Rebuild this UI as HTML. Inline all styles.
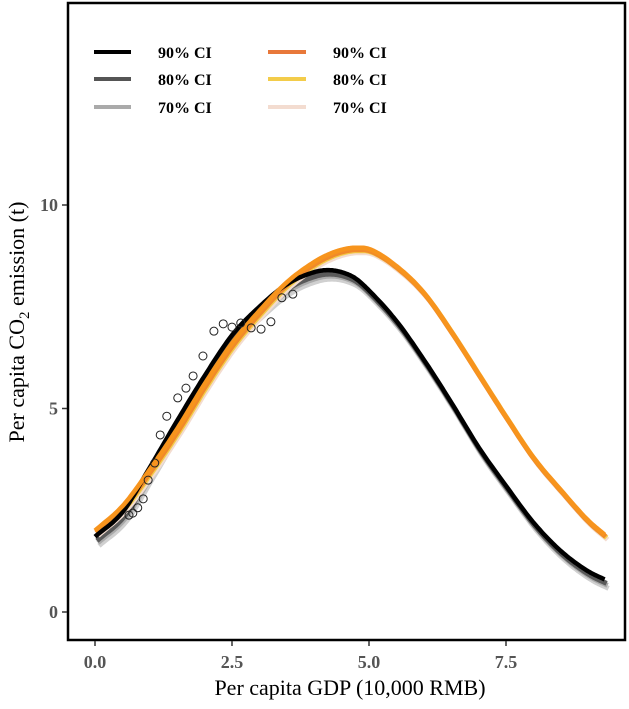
<!DOCTYPE html>
<html><head><meta charset="utf-8"><style>
body{margin:0;background:#fff;}
svg text{font-family:"Liberation Serif",serif;}
</style></head><body>
<svg id="chart" width="629" height="704" xmlns="http://www.w3.org/2000/svg">
<rect x="68" y="3" width="557" height="637" fill="#fff" stroke="#000" stroke-width="2.5"/>
<g id="bands"></g><g id="lines"></g><g id="pts"></g><g id="axes"></g>
<g font-weight="bold" font-size="16">
<line x1="94" y1="52" x2="131" y2="52" stroke="#000" stroke-width="4"/>
<text x="158" y="58">90% CI</text>
<line x1="94" y1="79" x2="131" y2="79" stroke="#555" stroke-width="4"/>
<text x="158" y="85">80% CI</text>
<line x1="94" y1="107" x2="131" y2="107" stroke="#aaa" stroke-width="4"/>
<text x="158" y="113">70% CI</text>
<line x1="268" y1="52" x2="306" y2="52" stroke="#e8783a" stroke-width="4"/>
<text x="333" y="58">90% CI</text>
<line x1="268" y1="79" x2="306" y2="79" stroke="#f3cc4a" stroke-width="4"/>
<text x="333" y="85">80% CI</text>
<line x1="268" y1="107" x2="306" y2="107" stroke="#f3dcd0" stroke-width="4"/>
<text x="333" y="113">70% CI</text>
</g>
<text x="350" y="695" font-size="22" text-anchor="middle">Per capita GDP (10,000 RMB)</text>
<text transform="translate(24,322) rotate(-90)" font-size="22" text-anchor="middle">Per capita CO<tspan font-size="15" dy="5">2</tspan><tspan dy="-5"> emission (t)</tspan></text>
</svg>
<script>
const xs=[0,0.5,1,1.5,2,2.5,3,3.5,4,4.25,4.5,4.75,5,5.5,6,6.5,7,7.5,8,8.5,9,9.3];
const blackY=[1.85,2.45,3.55,4.7,5.8,6.8,7.5,8.05,8.35,8.4,8.35,8.2,7.9,7.15,6.2,5.15,4.05,3.1,2.2,1.5,1.0,0.8];
const orangeY=[2.0,2.6,3.5,4.5,5.6,6.6,7.4,8.1,8.6,8.78,8.9,8.95,8.92,8.5,7.85,6.9,5.85,4.8,3.8,3.0,2.25,1.9];
const ptX=[0.62,0.69,0.78,0.88,0.97,1.09,1.19,1.31,1.51,1.66,1.79,1.97,2.17,2.34,2.5,2.66,2.85,3.03,3.21,3.41,3.61];
const ptY=[2.38,2.43,2.56,2.78,3.24,3.66,4.35,4.81,5.26,5.5,5.8,6.29,6.9,7.08,7.0,7.1,6.98,6.95,7.13,7.72,7.81];
const xTicks=[0,2.5,5,7.5], xTickLabels=["0.0","2.5","5.0","7.5"];
const yTicks=[0,5,10], yTickLabels=["0","5","10"];
const X=v=>95+v*54.8, Y=v=>612-v*40.7;
const NS="http://www.w3.org/2000/svg";
function mk(t,a,p){const e=document.createElementNS(NS,t);for(const k in a)e.setAttribute(k,a[k]);p.appendChild(e);return e;}
function path(ys){
  const n=xs.length,d=[],m=new Array(n);
  for(let i=0;i<n-1;i++)d.push((ys[i+1]-ys[i])/(xs[i+1]-xs[i]));
  m[0]=d[0];m[n-1]=d[n-2];
  for(let i=1;i<n-1;i++){m[i]=d[i-1]*d[i]<=0?0:(d[i-1]+d[i])/2;}
  let s='';
  for(let i=0;i<n-1;i++){
    const h=xs[i+1]-xs[i];
    for(let k=0;k<=12;k++){
      if(i>0&&k==0)continue;
      const t=k/12,t2=t*t,t3=t2*t;
      const y=(2*t3-3*t2+1)*ys[i]+(t3-2*t2+t)*h*m[i]+(-2*t3+3*t2)*ys[i+1]+(t3-t2)*h*m[i+1];
      const x=xs[i]+t*h;
      s+=(s?'L':'M')+X(x).toFixed(1)+','+Y(y).toFixed(1);
    }
  }
  return s;
}
const B=document.getElementById('bands'),L=document.getElementById('lines'),P=document.getElementById('pts'),A=document.getElementById('axes');
function band(ys,col,w,dx,dy,name){const e=mk('path',{d:path(ys),fill:'none',stroke:col,'stroke-width':w,transform:`translate(${dx},${dy})`,'stroke-linejoin':'round'},B);

}
band(blackY,'#d0d0d0',5,4,9,'black-70-band');
band(blackY,'#aaaaaa',5,3,6,'black-70-line');
band(blackY,'#5a5a5a',5,2,4,'black-80-line');
band(orangeY,'#f3dcd0',5,3,5,'orange-70-line');
band(orangeY,'#f3cc4a',5,2,3,'orange-80-line');
band(orangeY,'#f08a2a',5,1,2,'orange-90-band');
let e=mk('path',{d:path(blackY),fill:'none',stroke:'#000','stroke-width':4.5,'stroke-linejoin':'round'},L);


e=mk('path',{d:path(orangeY),fill:'none',stroke:'#f7941d','stroke-width':4.5,'stroke-linejoin':'round'},L);


ptX.forEach((x,i)=>{const c=mk('circle',{cx:X(x),cy:Y(ptY[i]),r:4,fill:'none',stroke:'#222','stroke-width':1},P);

});
xTicks.forEach((v,i)=>{const l=mk('line',{x1:X(v),x2:X(v),y1:641,y2:646,stroke:'#333','stroke-width':1.5},A);


const t=mk('text',{x:X(v),y:668,'text-anchor':'middle','font-size':18,'font-weight':'bold',fill:'#555'},A);t.textContent=xTickLabels[i];

});
yTicks.forEach((v,i)=>{const l=mk('line',{x1:62,x2:67,y1:Y(v),y2:Y(v),stroke:'#333','stroke-width':1.5},A);


const t=mk('text',{x:58,y:Y(v)+6,'text-anchor':'end','font-size':18,'font-weight':'bold',fill:'#555'},A);t.textContent=yTickLabels[i];

});
</script>
</body></html>
